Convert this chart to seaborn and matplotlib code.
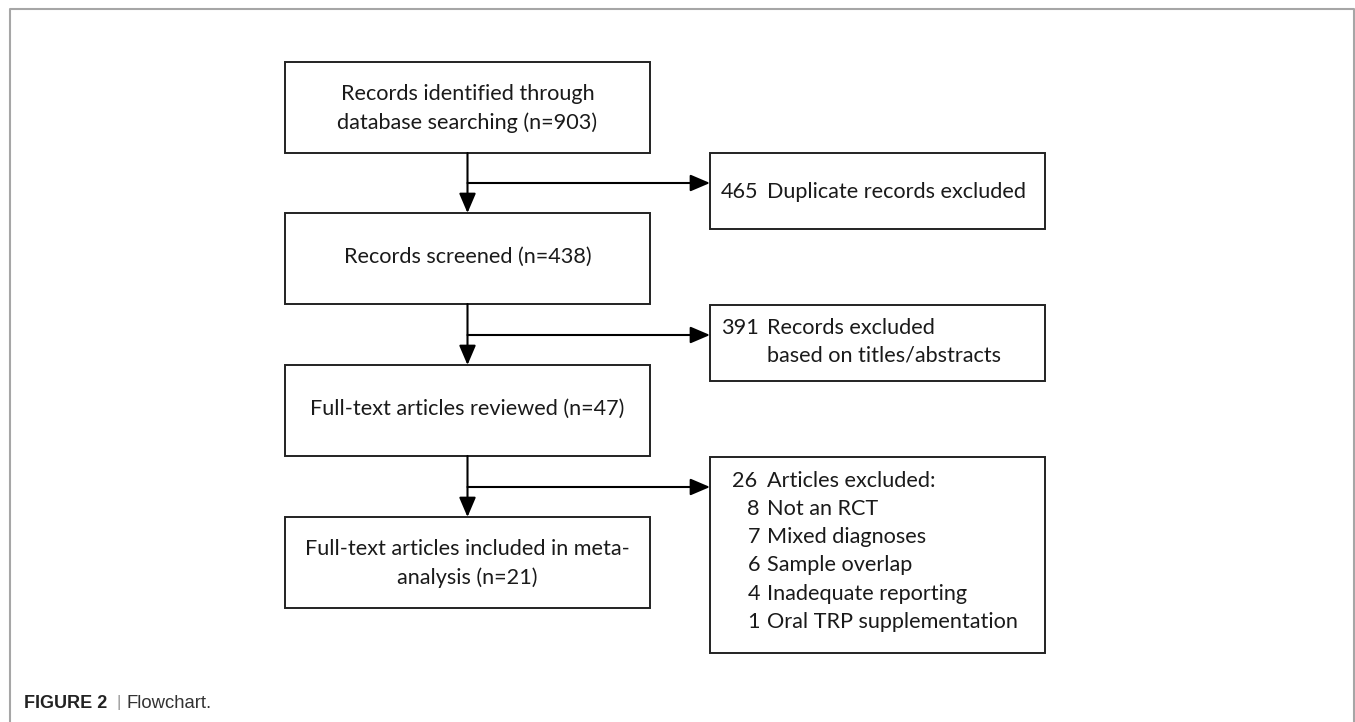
import matplotlib.pyplot as plt
import seaborn as sns
from matplotlib.patches import Rectangle
from matplotlib.lines import Line2D

# flowchart data
stage_counts = [903, 438, 47, 21]
stage_text = ["Records identified through\ndatabase searching (n={})",
              "Records screened (n={})",
              "Full-text articles reviewed (n={})",
              "Full-text articles included in meta-\nanalysis (n={})"]
excluded_counts = [465, 391, 26]
excluded_text = [["Duplicate records excluded"],
                 ["Records excluded", "based on titles/abstracts"],
                 ["Articles excluded:"]]
reason_counts = [8, 7, 6, 4, 1]
reason_text = ["Not an RCT", "Mixed diagnoses", "Sample overlap",
               "Inadequate reporting", "Oral TRP supplementation"]

sns.set_theme(style="white")
plt.rcParams['font.family'] = ['Lato', 'DejaVu Sans']

fig = plt.figure(figsize=(13.55, 7.22), dpi=100)
ax = fig.add_axes([0, 0, 1, 1])
ax.set_xlim(0, 1355)
ax.set_ylim(722, 0)
ax.axis("off")

edge = "#222222"
tc = "#1a1a1a"
fs = 15.6
lh = 28.5  # line height in px

# left column boxes (pixel layout)
lx0, lx1 = 285, 650
cx = (lx0 + lx1) / 2
left_y = [(62, 153), (213, 304), (365, 456), (517, 608)]
for (y0, y1), txt, n in zip(left_y, stage_text, stage_counts):
    ax.add_patch(Rectangle((lx0, y0), lx1 - lx0, y1 - y0, fill=False,
                           ec=edge, lw=1.4))
    lines = txt.format(n).split("\n")
    if len(lines) == 1:
        ys = [y0 + 44]
    else:
        mid = (y0 + y1) / 2 + 1
        ys = [mid - lh / 2 + k * lh for k in range(len(lines))]
    for yy, ln in zip(ys, lines):
        ax.text(cx, yy, ln, ha="center", va="center", fontsize=fs, color=tc)

# right column boxes
rx0, rx1 = 710, 1045
right_y = [(153, 229), (305, 381), (457, 653)]
arrow_y = [183, 335, 487]
first_line = [192, 328, 481]
num_x = [721, 721, 732]
for (y0, y1), lines, n, fy, nx in zip(right_y, excluded_text, excluded_counts,
                                      first_line, num_x):
    ax.add_patch(Rectangle((rx0, y0), rx1 - rx0, y1 - y0, fill=False,
                           ec=edge, lw=1.4))
    ax.text(nx, fy, str(n), ha="left", va="center", fontsize=fs, color=tc)
    for k, ln in enumerate(lines):
        ax.text(767, fy + k * 27.5, ln, ha="left", va="center", fontsize=fs, color=tc)

for i, (n, t) in enumerate(zip(reason_counts, reason_text)):
    yy = 509 + i * 28.2
    ax.text(760, yy, str(n), ha="right", va="center", fontsize=fs, color=tc)
    ax.text(767, yy, t, ha="left", va="center", fontsize=fs, color=tc)

# vertical arrows between stages and side arrows
astyle = dict(arrowstyle="-|>,head_length=0.75,head_width=0.32", color="black",
              lw=1.5, shrinkA=0, shrinkB=0, mutation_scale=16)
for i in range(3):
    ax.annotate("", xy=(cx, left_y[i + 1][0]), xytext=(cx, left_y[i][1]),
                arrowprops=astyle)
    ax.annotate("", xy=(rx0, arrow_y[i]), xytext=(cx, arrow_y[i]),
                arrowprops=astyle)

# outer frame
fc = "#a6a6a6"
ax.add_line(Line2D([9.5, 9.5, 1353.5, 1353.5], [722, 8.5, 8.5, 722], color=fc, lw=1.5))

# caption
ax.text(24, 703, "FIGURE 2", ha="left", va="center", fontsize=13,
        fontweight="bold", family="Liberation Sans", color="#222222")
ax.text(116, 703, "|", ha="left", va="center", fontsize=12,
        family="Liberation Sans", color="#999999")
ax.text(126, 703, "Flowchart.", ha="left", va="center", fontsize=13.3,
        family="Liberation Sans", color="#333333")

fig.savefig("out.png", dpi=100)
